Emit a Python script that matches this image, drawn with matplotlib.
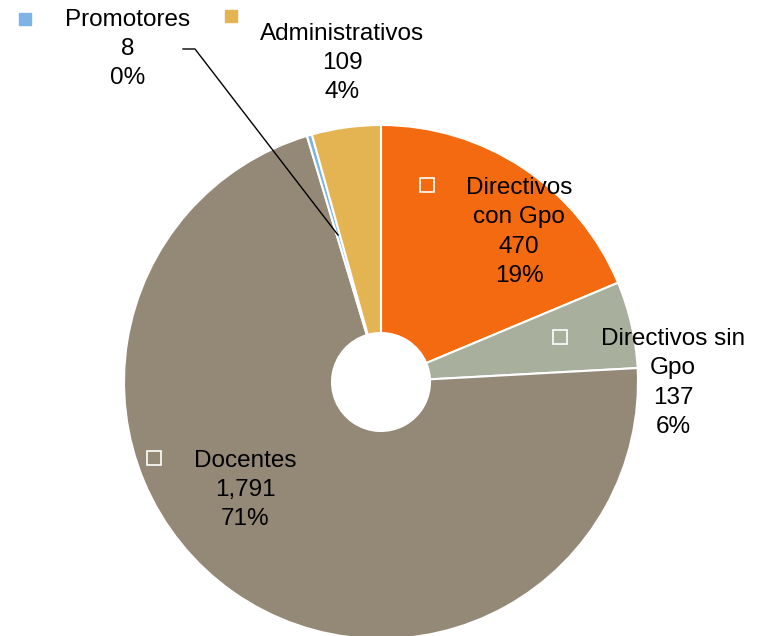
import numpy as np
import matplotlib
matplotlib.use('Agg')
import matplotlib.pyplot as plt

# data
categories = ['Directivos\ncon Gpo', 'Directivos sin\nGpo', 'Docentes', 'Promotores', 'Administrativos']
values = [470, 137, 1791, 8, 109]
pct_labels = ['19%', '6%', '71%', '0%', '4%']
colors = ['#F36A10', '#A8AF9C', '#948977', '#7CB5E5', '#E4B452']

plt.rcParams['font.family'] = ['Liberation Sans', 'DejaVu Sans']

fig = plt.figure(figsize=(7.6, 6.36), dpi=100)
ax = fig.add_axes([0, 0, 1, 1])

# pie in pixel coords (y up)
cx, cy = 381, 254
R = 257
hole = 49
ax.pie(values, colors=colors, startangle=90, counterclock=False,
       radius=R, center=(cx, cy),
       wedgeprops=dict(width=R - hole, edgecolor='white', linewidth=1.5))

ax.set_xlim(0, 760)
ax.set_ylim(0, 636)
ax.set_aspect('equal')
ax.axis('off')

# label layout: text centre, marker centre, marker style (inside slice -> hollow)
text_pos = [(519, 404), (673, 253), (245, 146), (128, 587), (342, 573)]
mark_pos = [(427, 451), (560, 299), (154, 178), (25, 617), (231, 620)]
inside = [True, True, True, False, False]

for i, name in enumerate(categories):
    lbl = name + '\n' + f'{values[i]:,}' + '\n' + pct_labels[i]
    ax.text(text_pos[i][0], text_pos[i][1], lbl, ha='center', va='center',
            fontsize=17.5, linespacing=1.42, color='black')
    if inside[i]:
        ax.plot(*mark_pos[i], marker='s', markersize=9.5, markerfacecolor='none',
                markeredgecolor='white', markeredgewidth=1.2)
    else:
        ax.plot(*mark_pos[i], marker='s', markersize=9, markerfacecolor=colors[i],
                markeredgecolor=colors[i], linestyle='none')

# leader line for Promotores
ax.plot([183, 195, 338], [587, 587, 401], color='black', linewidth=1)

fig.savefig('out.png', dpi=100)
